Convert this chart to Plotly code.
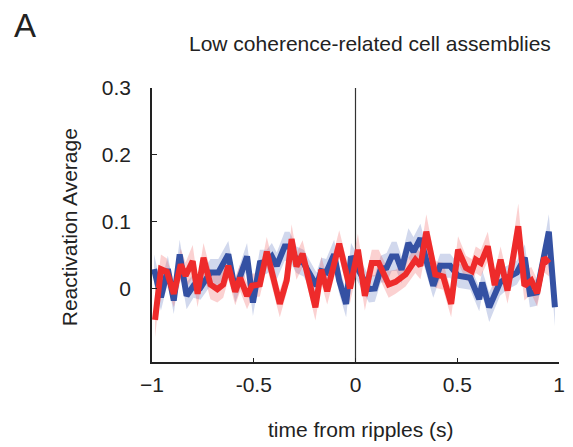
import plotly.graph_objects as go

# ---------------- data ----------------
blue_t = [-0.990, -0.956, -0.922, -0.893, -0.864, -0.830, -0.796, -0.762, -0.713, -0.674,
          -0.625, -0.591, -0.533, -0.504, -0.470, -0.436, -0.411, -0.387, -0.348, -0.324,
          -0.290, -0.255, -0.192, -0.168, -0.144, -0.105, -0.080, -0.046, -0.022, 0.066,
          0.095, 0.124, 0.153, 0.178, 0.202, 0.226, 0.260, 0.285, 0.319, 0.348,
          0.382, 0.416, 0.465, 0.504, 0.564, 0.608, 0.623, 0.657, 0.710, 0.745,
          0.793, 0.832, 0.857, 0.891, 0.925, 0.950, 0.980]
blue_mean = [0.029, -0.013, 0.029, -0.018, 0.051, -0.011, 0.004, 0.001, 0.024, 0.024,
             0.051, -0.003, 0.048, -0.021, 0.038, 0.040, 0.048, 0.034, 0.063, 0.063,
             0.043, 0.038, 0.004, 0.026, 0.024, 0.051, 0.012, -0.023, 0.048, -0.001,
             0.000, 0.029, 0.031, 0.048, 0.048, 0.028, 0.068, 0.055, 0.075, 0.043,
             0.004, 0.034, 0.034, 0.019, 0.016, -0.016, 0.009, -0.028, 0.009, 0.016,
             0.024, 0.046, -0.008, -0.006, 0.043, 0.085, -0.028]
blue_sem = [0.022, 0.020, 0.020, 0.020, 0.022, 0.020, 0.018, 0.018, 0.020, 0.020,
            0.020, 0.018, 0.020, 0.020, 0.020, 0.018, 0.020, 0.020, 0.022, 0.022,
            0.020, 0.020, 0.020, 0.020, 0.020, 0.022, 0.020, 0.020, 0.020, 0.020,
            0.020, 0.020, 0.022, 0.022, 0.022, 0.020, 0.022, 0.022, 0.022, 0.020,
            0.018, 0.018, 0.018, 0.018, 0.018, 0.018, 0.018, 0.022, 0.020, 0.018,
            0.018, 0.020, 0.020, 0.020, 0.022, 0.026, 0.028]

red_t = [-0.985, -0.956, -0.927, -0.893, -0.859, -0.835, -0.800, -0.776, -0.747, -0.713,
         -0.679, -0.650, -0.625, -0.591, -0.567, -0.533, -0.509, -0.470, -0.436, -0.372,
         -0.338, -0.314, -0.290, -0.260, -0.197, -0.168, -0.139, -0.080, -0.027, 0.012,
         0.046, 0.080, 0.114, 0.163, 0.197, 0.246, 0.294, 0.319, 0.348, 0.392,
         0.431, 0.470, 0.504, 0.543, 0.572, 0.591, 0.616, 0.650, 0.684, 0.713,
         0.747, 0.800, 0.830, 0.864, 0.893, 0.927, 0.951]
red_mean = [-0.047, 0.029, 0.025, -0.008, 0.036, 0.019, 0.041, -0.008, 0.046, 0.006,
            -0.001, 0.006, 0.034, -0.005, 0.016, -0.011, 0.004, 0.006, 0.055, -0.023,
            0.012, 0.074, 0.033, 0.052, -0.028, 0.028, -0.004, 0.067, 0.000, 0.058,
            -0.011, 0.038, 0.038, 0.006, 0.010, 0.021, 0.043, 0.034, 0.085, 0.021,
            0.018, -0.023, 0.058, 0.031, 0.026, 0.043, 0.038, 0.063, 0.005, 0.043,
            -0.003, 0.093, 0.004, 0.012, -0.007, 0.046, 0.038]
red_sem = [0.026, 0.022, 0.020, 0.020, 0.024, 0.020, 0.024, 0.020, 0.022, 0.022,
           0.020, 0.020, 0.020, 0.020, 0.020, 0.020, 0.018, 0.018, 0.022, 0.020,
           0.018, 0.022, 0.020, 0.020, 0.020, 0.020, 0.020, 0.020, 0.022, 0.024,
           0.022, 0.020, 0.020, 0.020, 0.018, 0.018, 0.020, 0.020, 0.026, 0.020,
           0.020, 0.020, 0.020, 0.018, 0.018, 0.020, 0.020, 0.022, 0.020, 0.020,
           0.020, 0.034, 0.022, 0.020, 0.020, 0.022, 0.020]

x_tickvals = [-1, -0.5, 0, 0.5, 1]
x_ticktext = ["\u22121", "-0.5", "0", "0.5", "1"]
y_tickvals = [0, 0.1, 0.2, 0.3]
y_ticktext = ["0", "0.1", "0.2", "0.3"]

title_text = "Low coherence-related cell assemblies"
x_title = "time from ripples (s)"
y_title = "Reactivation Average"
panel_label = "A"

# ---------------- styling ----------------
OFF = 8                      # page body margin in the browser
W, H = 573 - OFF, 447 - OFF
L, R, T, B = 152 - OFF, 8, 88 - OFF, 85
PW, PH = W - L - R, H - T - B
FONT = "Liberation Sans, Arial, Helvetica, sans-serif"
TXT = "#222222"
BLUE = "#3451A3"
RED = "#EE2B2B"


def px(x):
    return (x - OFF - L) / PW


def py(y):
    return (H - B - (y - OFF)) / PH


def band(t, m, s, color):
    up = [a + b for a, b in zip(m, s)]
    lo = [a - b for a, b in zip(m, s)]
    return go.Scatter(x=list(t) + list(t)[::-1], y=up + lo[::-1], fill="toself",
                      fillcolor=color, line=dict(width=0), mode="lines",
                      hoverinfo="skip", showlegend=False)


fig = go.Figure()
fig.add_trace(band(blue_t, blue_mean, blue_sem, "rgba(70,100,185,0.25)"))
fig.add_trace(band(red_t, red_mean, red_sem, "rgba(240,90,90,0.28)"))
fig.add_trace(go.Scatter(x=blue_t, y=blue_mean, mode="lines",
                         line=dict(color=BLUE, width=6), showlegend=False))
fig.add_trace(go.Scatter(x=red_t, y=red_mean, mode="lines",
                         line=dict(color=RED, width=6), showlegend=False))

fig.add_shape(type="line", xref="x", yref="y", x0=0, x1=0, y0=-0.11, y1=0.3,
              line=dict(color="#333333", width=1.2), layer="below")

fig.update_layout(
    width=W, height=H,
    margin=dict(l=L, r=R, t=T, b=B),
    paper_bgcolor="white", plot_bgcolor="white",
    font=dict(family=FONT, color=TXT, size=21),
    showlegend=False,
    xaxis=dict(range=[-1, 1], tickvals=x_tickvals, ticktext=x_ticktext,
               ticks="inside", ticklen=4, tickwidth=1.2, tickcolor="#222",
               showline=True, linecolor="#222", linewidth=1.5,
               showgrid=False, zeroline=False, ticklabelstandoff=3,
               tickfont=dict(size=21, family=FONT, color=TXT)),
    yaxis=dict(range=[-0.11, 0.3], tickvals=y_tickvals, ticktext=y_ticktext,
               ticks="inside", ticklen=5, tickwidth=1.2, tickcolor="#222",
               showline=True, linecolor="#222", linewidth=1.5,
               showgrid=False, zeroline=False, ticklabelstandoff=15,
               tickfont=dict(size=21, family=FONT, color=TXT)),
    annotations=[
        dict(text=panel_label, x=px(23), y=py(25), xref="paper", yref="paper",
             showarrow=False, xanchor="center", yanchor="middle",
             font=dict(size=33, family=FONT, color=TXT)),
        dict(text=title_text, x=px(373), y=py(44), xref="paper", yref="paper",
             showarrow=False, xanchor="center", yanchor="middle",
             font=dict(size=21, family=FONT, color=TXT)),
        dict(text=x_title, x=px(364), y=py(429), xref="paper", yref="paper",
             showarrow=False, xanchor="center", yanchor="middle",
             font=dict(size=21, family=FONT, color=TXT)),
        dict(text=y_title, x=px(68), y=py(227), xref="paper", yref="paper",
             showarrow=False, xanchor="center", yanchor="middle", textangle=-90,
             font=dict(size=21, family=FONT, color=TXT)),
    ],
)

fig.write_html("out.html")
